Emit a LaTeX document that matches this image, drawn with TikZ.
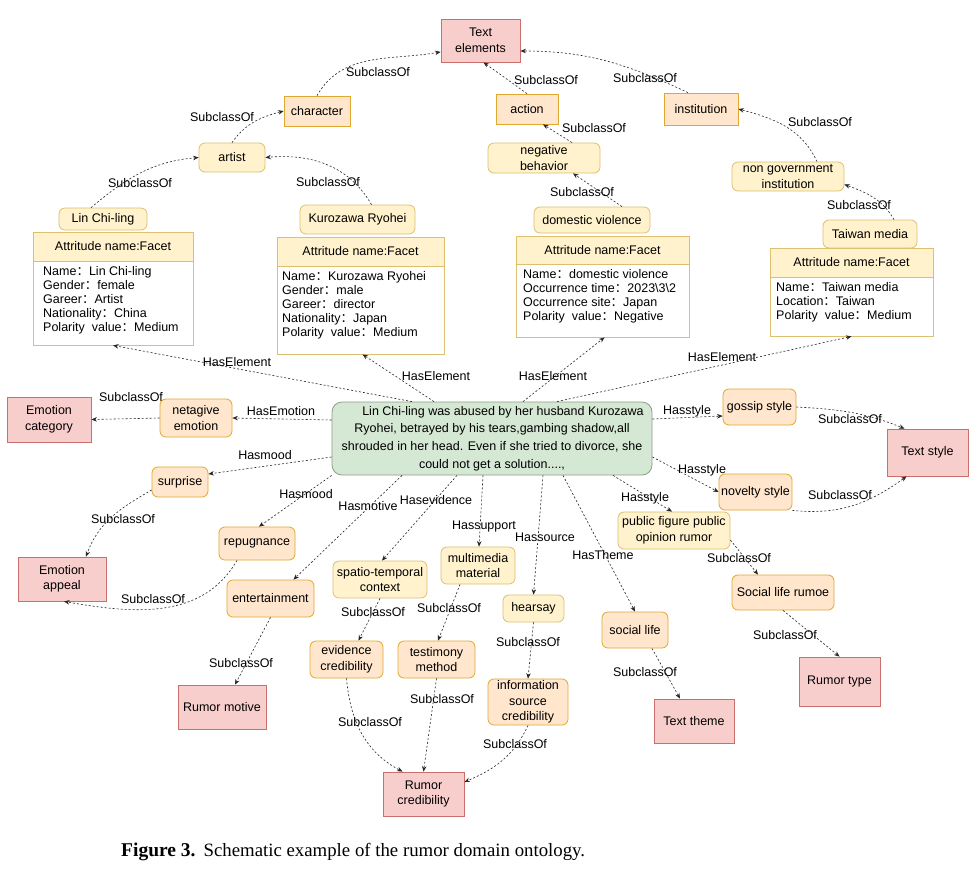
\documentclass[tikz,border=0pt]{standalone}
\usepackage{fontspec}
\setmainfont{Liberation Sans}
\newfontfamily\capfont{Liberation Serif}
\newfontfamily\cjk{Noto Sans CJK SC}
\usetikzlibrary{arrows.meta}
\definecolor{pinkF}{HTML}{F8CECC}
\definecolor{pinkD}{HTML}{C9706E}
\definecolor{peachF}{HTML}{FFE6CC}
\definecolor{peachD}{HTML}{E0A830}
\definecolor{yelF}{HTML}{FFF2CC}
\definecolor{yelD}{HTML}{DCC070}
\definecolor{greenF}{HTML}{D5E8D4}
\definecolor{greenD}{HTML}{8C9C8A}
\newcommand{\fwc}{{\cjk ：}}
\begin{document}
\begin{tikzpicture}[x=1pt,y=-1pt,
  every node/.style={font=\fontsize{12.5}{15.5}\selectfont, text=black},
  base/.style={draw, line width=0.8pt, inner sep=0pt, align=center},
  pinkbox/.style={base, fill=pinkF, draw=pinkD},
  peachsq/.style={base, fill=peachF, draw=peachD},
  peachr/.style={peachsq, rounded corners=6pt},
  yelr/.style={base, fill=yelF, draw=yelD, rounded corners=6pt},
  greenbox/.style={base, fill=greenF, draw=greenD, rounded corners=10pt, font=\fontsize{12.5}{17.8}\selectfont},
  ahead/.style={base, fill=yelF, draw=yelD},
  abody/.style={base, fill=white, draw=yelD},
  atext/.style={inner sep=0pt, align=left, anchor=north west, font=\fontsize{12.5}{13.9}\selectfont},
  rel/.style={draw=black!85, line width=0.6pt, dash pattern=on 2pt off 2pt, -{Stealth[length=5.5pt,width=4.5pt]}},
  lbl/.style={inner sep=0pt}
]
\useasboundingbox (0,0) rectangle (976,871);
\fill[white] (0,0) rectangle (976,871);

% ---------- nodes ----------
\node[pinkbox, minimum width=79pt, minimum height=43pt] (TE) at (480.5,40.5) {Text\\elements};
\node[peachsq, minimum width=66pt, minimum height=30pt] (char) at (317,111) {character};
\node[yelr, minimum width=66pt, minimum height=29pt] (artist) at (232,157.5) {artist};
\node[yelr, minimum width=88pt, minimum height=22pt] (lin) at (103,219) {Lin Chi-ling};
\node[yelr, minimum width=115pt, minimum height=29pt] (kuro) at (357.5,219.5) {Kurozawa Ryohei};
\node[peachsq, minimum width=62pt, minimum height=30pt] (action) at (527,109) {action};
\node[peachsq, minimum width=74pt, minimum height=32pt] (inst) at (701,109) {institution};
\node[yelr, minimum width=112pt, minimum height=30pt] (negb) at (544,158) {negative\\behavior};
\node[yelr, minimum width=116pt, minimum height=26pt] (dv) at (592,220) {domestic violence};
\node[yelr, minimum width=112pt, minimum height=29pt] (ngi) at (788,176.5) {non government\\institution};
\node[yelr, minimum width=94pt, minimum height=28pt] (tm) at (870,234) {Taiwan media};

% attribute boxes
\node[ahead, minimum width=160pt, minimum height=29pt] (a1h) at (113,246.5) {Attritude name:Facet};
\node[abody, minimum width=160pt, minimum height=84pt] (a1b) at (113,303) {};
\node[atext] (a1t) at (43,266.4) {Name\fwc Lin Chi-ling\\Gender\fwc female\\Gareer\fwc Artist\\Nationality\fwc China\\Polarity\ \ value\fwc Medium};

\node[ahead, minimum width=167pt, minimum height=29pt] (a2h) at (360.5,251.5) {Attritude name:Facet};
\node[abody, minimum width=167pt, minimum height=88pt] (a2b) at (360.5,310) {};
\node[atext] (a2t) at (282,271.4) {Name\fwc Kurozawa Ryohei\\Gender\fwc male\\Gareer\fwc director\\Nationality\fwc Japan\\Polarity\ \ value\fwc Medium};

\node[ahead, minimum width=173pt, minimum height=28pt] (a3h) at (602.5,250) {Attritude name:Facet};
\node[abody, minimum width=173pt, minimum height=73pt] (a3b) at (602.5,300.5) {};
\node[atext] (a3t) at (523,269.4) {Name\fwc domestic violence\\Occurrence time\fwc 2023\textbackslash3\textbackslash2\\Occurrence site\fwc Japan\\Polarity\ \ value\fwc Negative};

\node[ahead, minimum width=163pt, minimum height=29pt] (a4h) at (851.5,262.5) {Attritude name:Facet};
\node[abody, minimum width=163pt, minimum height=59pt] (a4b) at (851.5,306.5) {};
\node[atext] (a4t) at (776,282.4) {Name\fwc Taiwan media\\Location\fwc Taiwan\\Polarity\ \ value\fwc Medium};

% central
\node[greenbox, minimum width=320pt, minimum height=73pt] (G) at (492,438.5) {\hspace*{22pt}Lin Chi-ling was abused by her husband Kurozawa\\Ryohei, betrayed by his tears,gambing shadow,all\\shrouded in her head. Even if she tried to divorce, she\\could not get a solution....,};

\node[pinkbox, minimum width=84pt, minimum height=45pt] (EC) at (49,419.5) {Emotion\\category};
\node[peachr, minimum width=72pt, minimum height=38pt] (ne) at (196,418) {netagive\\emotion};
\node[peachr, minimum width=56pt, minimum height=30pt] (sur) at (180,482) {surprise};
\node[pinkbox, minimum width=88pt, minimum height=44pt] (EA) at (62,579) {Emotion\\appeal};
\node[peachr, minimum width=76pt, minimum height=33pt] (rep) at (257,543.5) {repugnance};
\node[peachr, minimum width=87pt, minimum height=37pt] (ent) at (270.5,598.5) {entertainment};
\node[yelr, minimum width=94pt, minimum height=37pt] (stc) at (380,579.5) {spatio-temporal\\context};
\node[yelr, minimum width=74pt, minimum height=37pt] (mm) at (478,565.5) {multimedia\\material};
\node[peachr, minimum width=73pt, minimum height=36pt] (gs) at (759.5,407) {gossip style};
\node[pinkbox, minimum width=81pt, minimum height=47pt] (TS) at (927.5,452.5) {Text style};
\node[peachr, minimum width=73pt, minimum height=36pt] (nov) at (755.5,492) {novelty style};
\node[yelr, minimum width=112pt, minimum height=37pt] (pf) at (674,530.5) {public figure public\\opinion rumor};
\node[peachr, minimum width=102pt, minimum height=35pt] (slr) at (783,592.5) {Social life rumoe};
\node[yelr, minimum width=61pt, minimum height=27pt] (hs) at (533.5,608.5) {hearsay};
\node[peachr, minimum width=66pt, minimum height=36pt] (sl) at (635,630) {social life};
\node[peachr, minimum width=73pt, minimum height=37pt] (evc) at (346.5,659.5) {evidence\\credibility};
\node[peachr, minimum width=77pt, minimum height=37pt] (tmeth) at (436.5,659.5) {testimony\\method};
\node[peachr, minimum width=80pt, minimum height=46pt] (isc) at (528,702) {information\\source\\credibility};
\node[pinkbox, minimum width=88pt, minimum height=44pt] (RM) at (222,707) {Rumor motive};
\node[pinkbox, minimum width=81pt, minimum height=44pt] (RC) at (423.5,794) {Rumor\\credibility};
\node[pinkbox, minimum width=80pt, minimum height=44pt] (TT) at (694,721) {Text theme};
\node[pinkbox, minimum width=81pt, minimum height=49pt] (RT) at (839.5,681.5) {Rumor type};

% ---------- connectors ----------
\draw[rel] (char.north) to[out=60,in=190] (TE.196);
\draw[rel] (artist.north) to[out=55,in=195] (char.west);
\draw[rel] ([xshift=-12pt]lin.north) to[out=40,in=185] (artist.west);
\draw[rel] ([xshift=14pt]kuro.north) to[out=120,in=5] (artist.east);
\draw[rel] (action.north) -- ([xshift=3pt]TE.south);
\draw[rel] ([xshift=-13pt]inst.north) to[out=155,in=0] ([yshift=-10.5pt]TE.east);
\draw[rel] ([xshift=28pt]negb.north) -- ([xshift=16pt]action.south);
\draw[rel] ([xshift=30pt]dv.north) -- ([xshift=29pt]negb.south);
\draw[rel] ([xshift=29pt]ngi.north) to[out=115,in=-15] (inst.east);
\draw[rel] ([xshift=24pt]tm.north) to[out=120,in=-20] ([yshift=-8pt]ngi.east);

\draw[rel] ([xshift=-80pt]G.north) -- (a1b.south);
\draw[rel] ([xshift=-58pt]G.north) -- ([xshift=2pt]a2b.south);
\draw[rel] ([xshift=31pt]G.north) -- ([xshift=2pt]a3b.south);
\draw[rel] ([xshift=65pt]G.north) -- (a4b.south);

\draw[rel] ([yshift=18.5pt]G.west) -- (ne.east);
\draw[rel] (ne.west) -- (EC.east);
\draw[rel] ([yshift=-18.5pt]G.west) -- ([yshift=8pt]sur.east);
\draw[rel] ([yshift=-8pt]sur.west) to[out=210,in=70] ([xshift=24pt]EA.north);
\draw[rel] (G.south west) -- ([xshift=2pt]rep.north);
\draw[rel] ([xshift=-20pt]rep.south) to[out=240,in=-10] ([xshift=2pt]EA.south);
\draw[rel] ([xshift=-90pt]G.south) -- ([xshift=23pt]ent.north);
\draw[rel] (ent.south) -- ([xshift=13pt]RM.north);
\draw[rel] ([xshift=-35pt]G.south) -- ([xshift=2pt]stc.north);
\draw[rel] (stc.south) -- ([xshift=12pt]evc.north);
\draw[rel] ([xshift=-9pt]G.south) -- ([xshift=1pt]mm.north);
\draw[rel] ([xshift=-18pt]mm.south) -- ([xshift=1.5pt]tmeth.north);
\draw[rel] ([xshift=51pt]G.south) -- (hs.north);
\draw[rel] (hs.south) -- (isc.north);
\draw[rel] ([xshift=71pt]G.south) -- (sl.north);
\draw[rel] ([xshift=17pt]sl.south) -- ([xshift=-14pt]TT.north);
\draw[rel] ([yshift=19.5pt]G.east) -- ([yshift=-9pt]gs.west);
\draw[rel] (gs.east) to[out=-3,in=158] ([xshift=-23pt]TS.north);
\draw[rel] ([yshift=-18.5pt]G.east) -- (nov.west);
\draw[rel] (nov.south east) to[out=-6,in=216] ([xshift=-21pt]TS.south);
\draw[rel] ([xshift=121pt]G.south) -- ([xshift=-2pt]pf.north);
\draw[rel] ([yshift=-9.5pt]pf.east) -- ([xshift=-25pt]slr.north);
\draw[rel] (slr.south) -- (RT.north);
\draw[rel] (evc.south) to[out=275,in=152] ([xshift=-21pt]RC.north);
\draw[rel] (tmeth.south) -- (RC.north);
\draw[rel] (isc.south) to[out=245,in=23] ([yshift=12pt]RC.east);

% ---------- labels ----------
\node[lbl] (l1) at (378,72) {SubclassOf};
\node[lbl] (l2) at (222,117) {SubclassOf};
\node[lbl] (l3) at (140,183) {SubclassOf};
\node[lbl] (l4) at (328,182) {SubclassOf};
\node[lbl] (l5) at (546,80) {SubclassOf};
\node[lbl] (l6) at (645,78) {SubclassOf};
\node[lbl] (l7) at (594,128) {SubclassOf};
\node[lbl] (l8) at (582,192) {SubclassOf};
\node[lbl] (l9) at (820,122) {SubclassOf};
\node[lbl] (l10) at (859,205) {SubclassOf};
\node[lbl] (l11) at (237,362) {HasElement};
\node[lbl] (l12) at (436,376) {HasElement};
\node[lbl] (l13) at (553,376) {HasElement};
\node[lbl] (l14) at (722,357) {HasElement};
\node[lbl] (l15) at (281,411) {HasEmotion};
\node[lbl] (l16) at (131,397) {SubclassOf};
\node[lbl] (l17) at (265,455) {Hasmood};
\node[lbl] (l18) at (123,519) {SubclassOf};
\node[lbl] (l19) at (306,494) {Hasmood};
\node[lbl] (l20) at (153,599) {SubclassOf};
\node[lbl] (l21) at (368,506) {Hasmotive};
\node[lbl] (l22) at (241,663) {SubclassOf};
\node[lbl] (l23) at (436,500) {Hasevidence};
\node[lbl] (l24) at (373,612) {SubclassOf};
\node[lbl] (l25) at (484,526) {Hassupport};
\node[lbl] (l26) at (449,608) {SubclassOf};
\node[lbl] (l27) at (545,537) {Hassource};
\node[lbl] (l28) at (528,642) {SubclassOf};
\node[lbl] (l29) at (603,555) {HasTheme};
\node[lbl] (l30) at (645,672) {SubclassOf};
\node[lbl] (l31) at (687,411) {Hasstyle};
\node[lbl] (l32) at (850,419) {SubclassOf};
\node[lbl] (l33) at (702,470) {Hasstyle};
\node[lbl] (l34) at (840,495) {SubclassOf};
\node[lbl] (l35) at (645,498) {Hasstyle};
\node[lbl] (l36) at (739,558) {SubclassOf};
\node[lbl] (l37) at (785,635) {SubclassOf};
\node[lbl] (l38) at (370,722) {SubclassOf};
\node[lbl] (l39) at (442,699) {SubclassOf};
\node[lbl] (l40) at (515,744) {SubclassOf};

% caption
\node[anchor=base west, inner sep=0pt, font=\capfont\fontsize{18.8}{20}\selectfont] (cap) at (121,856) {\textbf{\fontsize{19.5}{20}\selectfont Figure 3.}\hspace{8pt}Schematic example of the rumor domain ontology.};
\end{tikzpicture}
\end{document}
